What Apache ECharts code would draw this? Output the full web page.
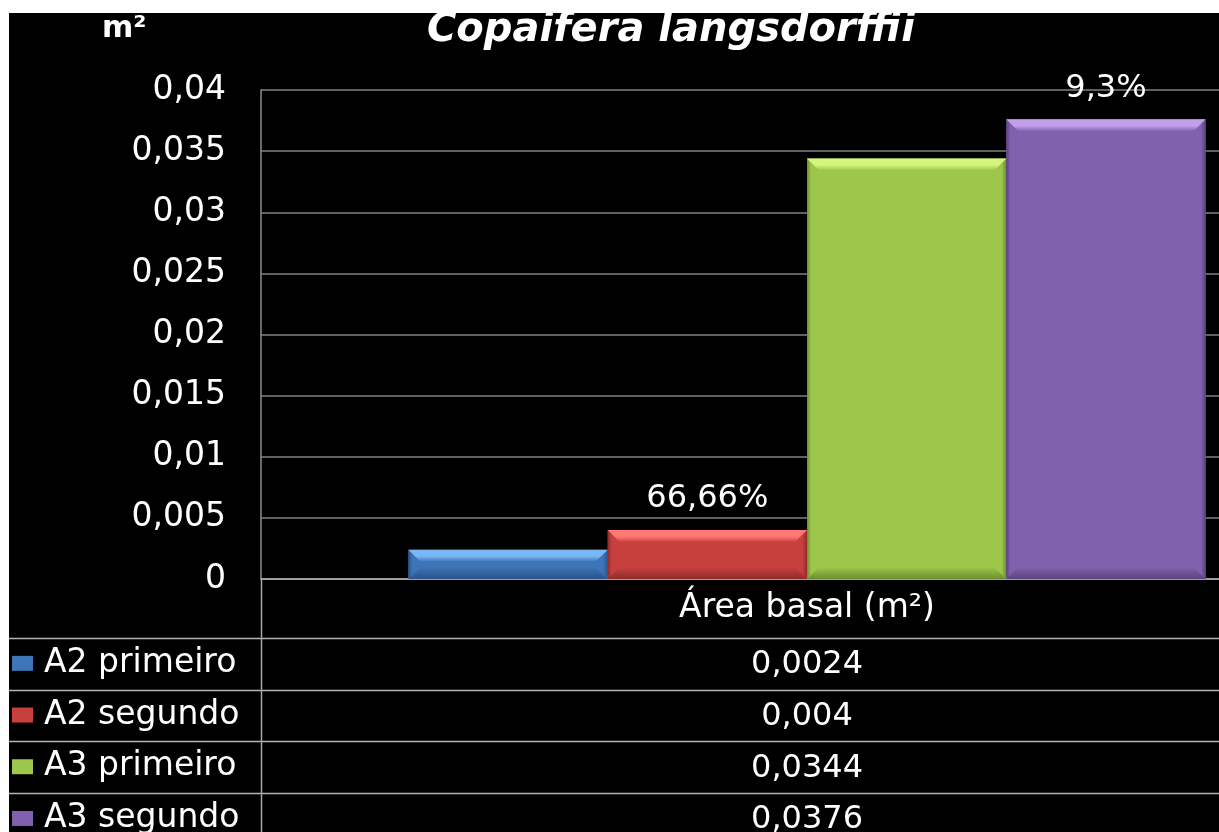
<!DOCTYPE html>
<html>
<head>
<meta charset="utf-8">
<title>Copaifera langsdorffii</title>
<script src="https://cdn.jsdelivr.net/npm/echarts@6/dist/echarts.min.js"></script>
<style>
  html, body { margin: 0; padding: 0; background: #fff; }
  #chart { width: 1219px; height: 832px; }
</style>
</head>
<body>
<div id="chart"></div>
<script>
// Basal area of Copaifera langsdorffii per plot and survey
const categories = ['Área basal (m²)'];
const seriesNames = ['A2 primeiro', 'A2 segundo', 'A3 primeiro', 'A3 segundo'];
const values = [0.0024, 0.004, 0.0344, 0.0376];
const growthLabels = ['', '66,66%', '', '9,3%'];
const yMin = 0, yMax = 0.04, yStep = 0.005;

// Bevelled bar palette
const faceColors  = ['#3e74b8', '#c7403e', '#9cc74a', '#8061ae'];
const lightColors = ['#7ab7f6', '#ff7875', '#d5f57c', '#c29fee'];
const darkColors  = ['#2b5488', '#8f2c2a', '#6d8f2e', '#5a437e'];

const FONT = '"DejaVu Sans", Verdana, sans-serif';

// table geometry (rows under the plot)
const tableTop = 638, rowH = 51.7, tableLeft = 9, axisX = 261, axisY = 579;

function fmt(v) {
  return String(+v.toFixed(4)).replace('.', ',');
}

function renderBar(params, api) {
  const i = params.seriesIndex;
  const cat = api.value(0);
  const top = api.coord([cat, api.value(1)]);
  const base = api.coord([cat, 0]);
  const band = api.size([1, 0])[0];
  const groupW = band * 0.73;
  const w = groupW / seriesNames.length;
  const x0 = top[0] - groupW / 2 + i * w;
  const x1 = x0 + w;
  const y0 = top[1];
  const y1 = base[1];
  const h = y1 - y0;
  const b = Math.min(12, h / 2.4);
  const children = [
    { type: 'rect', shape: { x: x0, y: y0, width: w, height: h },
      style: { fill: faceColors[i] } },
    { type: 'polygon', shape: { points: [[x0, y0], [x0 + b, y0 + b], [x0 + b, y1 - b], [x0, y1]] },
      style: { fill: { type: 'linear', x: 0, y: 0, x2: 1, y2: 0,
        colorStops: [{ offset: 0, color: darkColors[i] }, { offset: 0.35, color: faceColors[i] }, { offset: 1, color: faceColors[i] }] } } },
    { type: 'polygon', shape: { points: [[x1, y0], [x1 - b, y0 + b], [x1 - b, y1 - b], [x1, y1]] },
      style: { fill: { type: 'linear', x: 0, y: 0, x2: 1, y2: 0,
        colorStops: [{ offset: 0, color: faceColors[i] }, { offset: 0.6, color: faceColors[i] }, { offset: 1, color: darkColors[i] }] } } },
    { type: 'polygon', shape: { points: [[x0, y0], [x1, y0], [x1 - b, y0 + b], [x0 + b, y0 + b]] },
      style: { fill: { type: 'linear', x: 0, y: 0, x2: 0, y2: 1,
        colorStops: [{ offset: 0, color: lightColors[i] }, { offset: 0.55, color: lightColors[i] }, { offset: 1, color: faceColors[i] }] } } },
    { type: 'polygon', shape: { points: [[x0, y1], [x0 + b, y1 - b], [x1 - b, y1 - b], [x1, y1]] },
      style: { fill: { type: 'linear', x: 0, y: 0, x2: 0, y2: 1,
        colorStops: [{ offset: 0, color: faceColors[i] }, { offset: 1, color: darkColors[i] }] } } }
  ];
  if (growthLabels[i]) {
    children.push({
      type: 'text',
      x: (x0 + x1) / 2, y: y0 - 15,
      style: { text: growthLabels[i], fill: '#fff', font: '32px ' + FONT,
               align: 'center', verticalAlign: 'bottom' }
    });
  }
  return { type: 'group', children: children };
}

const chart = echarts.init(document.getElementById('chart'), null, { renderer: 'canvas' });

const series = seriesNames.map((name, i) => ({
  type: 'custom',
  name: name,
  renderItem: renderBar,
  clip: false,
  itemStyle: { color: faceColors[i] },
  data: [[0, values[i]]],
  silent: true
}));

// one legend entry per table row
const legends = seriesNames.map((name, r) => ({
  data: [name],
  orient: 'vertical',
  left: 12, top: tableTop + (r + 0.5) * rowH - 17, padding: 0,
  itemWidth: 21, itemHeight: 15, icon: 'rect',
  selectedMode: false,
  textStyle: { color: '#fff', fontSize: 33, fontFamily: FONT, lineHeight: 26, padding: [0, 0, 0, 6] }
}));

chart.setOption({
  backgroundColor: '#000',
  animation: false,
  title: {
    text: 'Copaifera langsdorffii',
    left: 671, top: 11, padding: 0, textAlign: 'center',
    textStyle: { color: '#fff', fontSize: 40, fontWeight: 'bold', fontStyle: 'italic', fontFamily: FONT }
  },
  legend: legends,
  // the plot runs past the right edge of the page
  grid: { left: 261, right: -134, top: 90, bottom: 253, containLabel: false, outerBoundsMode: 'none' },
  xAxis: {
    type: 'category',
    data: categories,
    axisLine: { show: true, lineStyle: { color: '#b4b4b4', width: 1.5 } },
    axisTick: { show: false },
    axisLabel: { color: '#fff', fontSize: 33, fontFamily: FONT, margin: 13 },
    splitLine: { show: false }
  },
  yAxis: {
    type: 'value',
    min: yMin, max: yMax, interval: yStep,
    axisLine: { show: true, lineStyle: { color: '#8c8c8c', width: 1.5 } },
    axisTick: { show: false },
    axisLabel: { color: '#fff', fontSize: 33, fontFamily: FONT, margin: 35, formatter: fmt },
    splitLine: { show: true, lineStyle: { color: '#808080', width: 1.5 } }
  },
  series: series
});

// Data table below the plot: one value per row, centred under the category
const cx = chart.convertToPixel({ xAxisIndex: 0 }, categories[0]);
const graphics = [];
for (let r = 0; r < seriesNames.length; r++) {
  const y = Math.round(tableTop + r * rowH) + 0.5;
  graphics.push({ type: 'line', shape: { x1: tableLeft, y1: y, x2: 1219, y2: y },
    style: { stroke: '#b4b4b4', lineWidth: 1.5 }, silent: true });
  graphics.push({ type: 'text', x: cx, y: tableTop + (r + 0.5) * rowH + 1,
    style: { text: fmt(values[r]), fill: '#fff', font: '32px ' + FONT, align: 'center', verticalAlign: 'middle' },
    silent: true });
}
graphics.push({ type: 'line', shape: { x1: axisX + 0.5, y1: axisY, x2: axisX + 0.5, y2: 832 },
  style: { stroke: '#a8a8a8', lineWidth: 1.5 }, silent: true });
// Unit of the value axis
graphics.push({ type: 'text', x: 102, y: 29,
  style: { text: 'm²', fill: '#fff', font: 'bold 30px ' + FONT, verticalAlign: 'middle' }, silent: true });
// White page margins
graphics.push({ type: 'rect', shape: { x: 0, y: 0, width: 1219, height: 13 }, style: { fill: '#fff' }, z: 100, silent: true });
graphics.push({ type: 'rect', shape: { x: 0, y: 0, width: 9, height: 832 }, style: { fill: '#fff' }, z: 100, silent: true });

chart.setOption({ graphic: graphics });
</script>
</body>
</html>
